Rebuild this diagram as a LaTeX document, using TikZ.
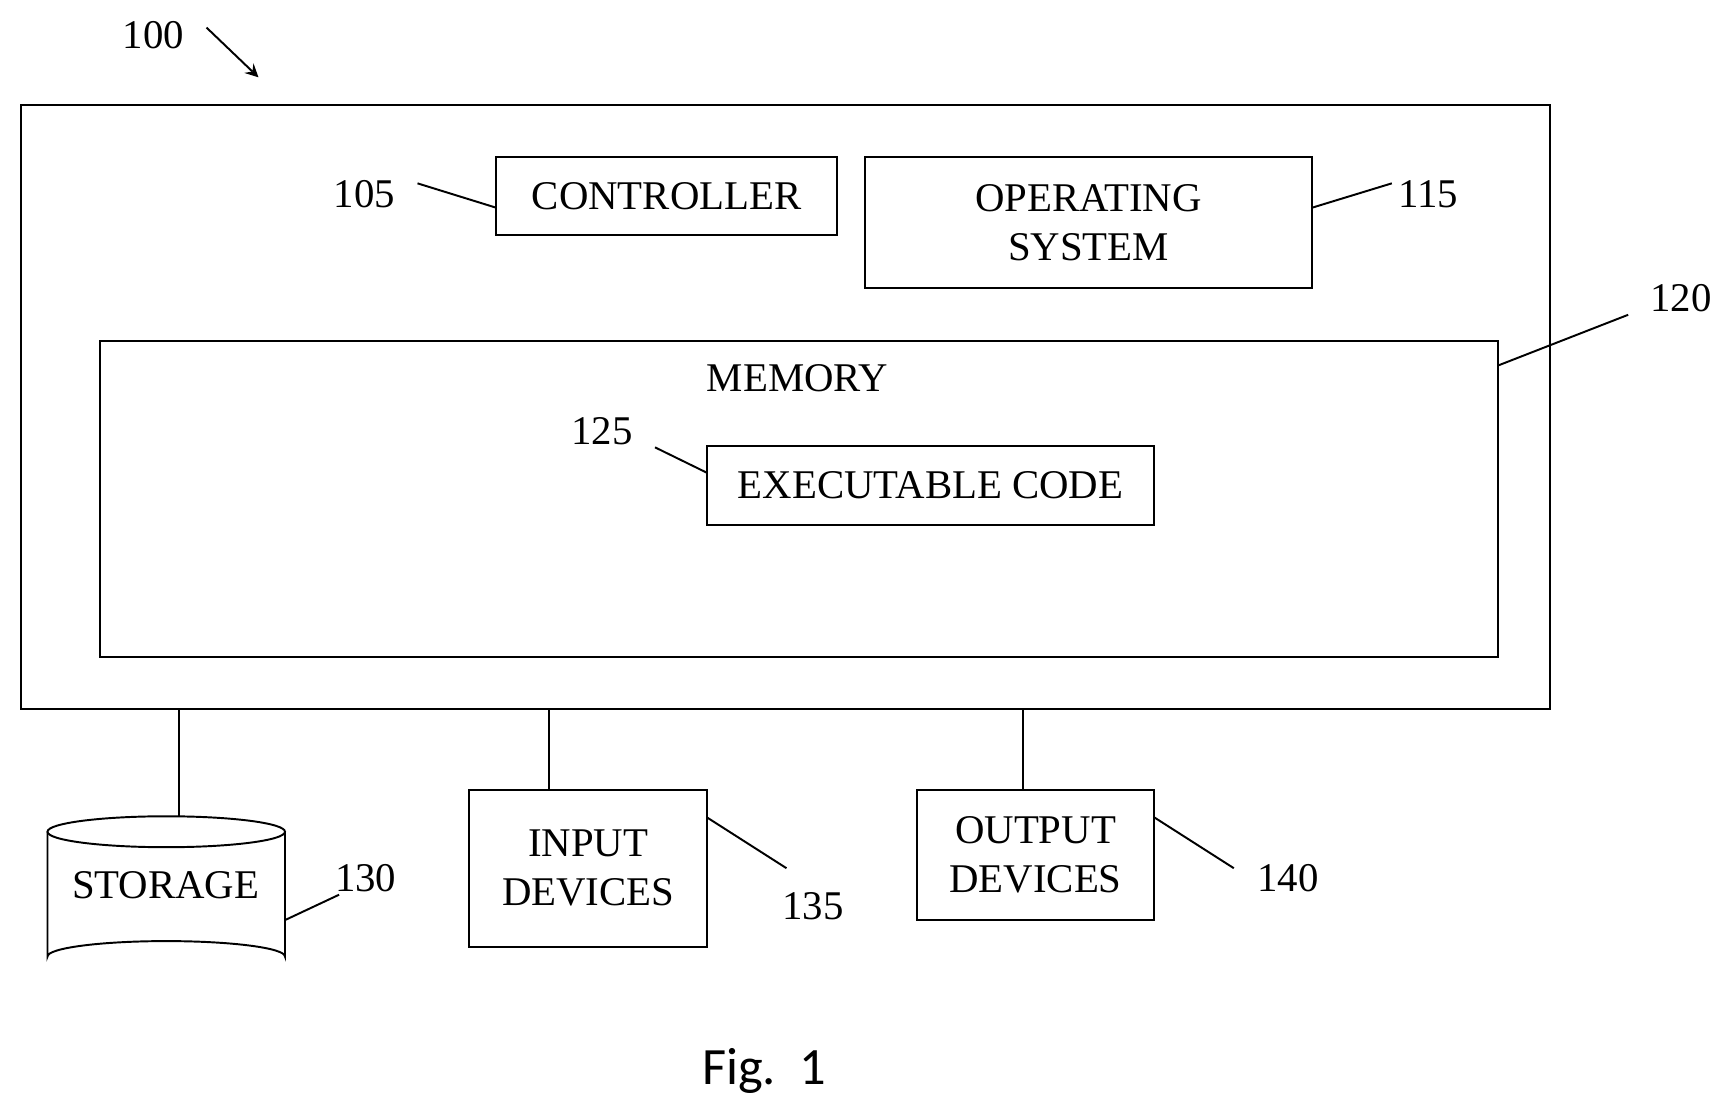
\documentclass[tikz,border=0pt]{standalone}
\usepackage{fontspec}
\setmainfont{Liberation Serif}
\newfontfamily\figfont{Carlito}
\begin{document}
\begin{tikzpicture}[x=0.01cm,y=-0.01cm,
  box/.style={draw,line width=0.5pt,inner sep=0pt,align=center,font=\fontsize{10.5}{12.5}\selectfont},
  lbl/.style={font=\fontsize{10.5}{12.5}\selectfont,inner sep=1pt},
  ln/.style={line width=0.5pt}]
\useasboundingbox (0,0) rectangle (1568,1013);
\node[box,minimum width=13.84cm,minimum height=5.47cm] (outer) at (711,368.5) {};
\node[box,minimum width=3.09cm,minimum height=0.71cm] (ctrl) at (603.5,177.5) {CONTROLLER};
\node[box,minimum width=4.05cm,minimum height=1.19cm] (os) at (985.5,201.5) {OPERATING\\SYSTEM};
\node[box,minimum width=12.65cm,minimum height=2.86cm] (mem) at (723.5,452) {};
\node[lbl] (memt) at (722,342) {MEMORY};
\node[box,minimum width=4.05cm,minimum height=0.71cm] (exe) at (842.5,439.5) {EXECUTABLE CODE};
\node[box,minimum width=2.15cm,minimum height=1.42cm] (in) at (532.5,786) {INPUT\\DEVICES};
\node[box,minimum width=2.15cm,minimum height=1.18cm] (out) at (937.5,774) {OUTPUT\\DEVICES};
% storage cylinder
\draw[ln,fill=white] (43,753) -- (43,866) arc[start angle=180,end angle=360,x radius=107.5,y radius=14] -- (258,753);
\draw[ln] (150.5,753) ellipse[x radius=107.5,y radius=14];
\node[lbl] (stor) at (150,801) {STORAGE};
\coordinate (stortop) at (162,739);
\coordinate (s130) at (258,833);
% labels
\node[lbl] (l100) at (139,32) {100};
\node[lbl] (l105) at (330,176) {105};
\node[lbl] (l115) at (1293,176) {115};
\node[lbl] (l120) at (1522,270) {120};
\node[lbl] (l125) at (545,390) {125};
\node[lbl] (l130) at (331,795) {130};
\node[lbl] (l135) at (736,820) {135};
\node[lbl] (l140) at (1166,795) {140};
\node[font=\figfont\fontsize{13.5}{16}\selectfont] (fig) at (692,970) {Fig.\ \ 1};
% leaders
\draw[ln,-stealth] (187,25) -- (234,70);
\draw[ln] (378,166) -- (449,188);
\draw[ln] (1188,188) -- (1260,166);
\draw[ln] (1356,331) -- (1474,285);
\draw[ln] (593,405) -- (640,428);
\draw[ln] (s130) -- (307,810);
\draw[ln] (640,740) -- (712,786);
\draw[ln] (1045,740) -- (1117,786);
% connectors
\draw[ln] (162,642) -- (stortop);
\draw[ln] (497,642) -- (497,715);
\draw[ln] (926,642) -- (926,715);
\end{tikzpicture}
\end{document}
